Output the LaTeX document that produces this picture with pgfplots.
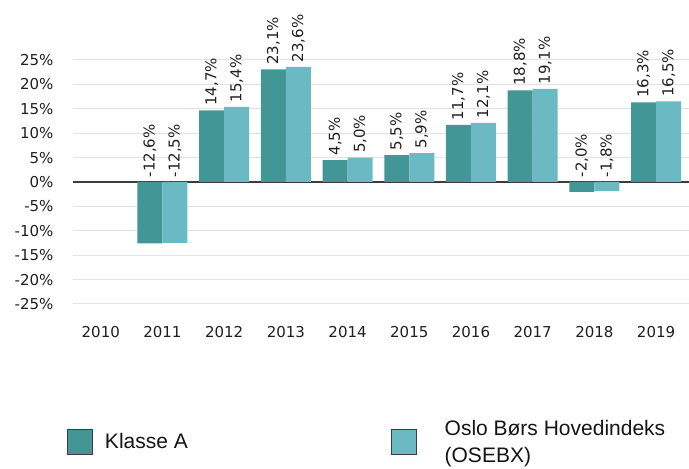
\documentclass[border=0pt]{standalone}
\usepackage{pgfplots}
\pgfplotsset{compat=1.18}
\usepackage{pgfplotstable}
\usepackage{fontspec}
\setmainfont{DejaVu Sans}
\newfontfamily\legfont{Liberation Sans}
\definecolor{klasseA}{RGB}{66,150,150}
\definecolor{osebx}{RGB}{107,185,194}
\definecolor{gridc}{RGB}{226,226,226}
\definecolor{zeroc}{RGB}{60,60,60}

\pgfplotstableread{
x a alab alabel b blab blabel
1 -12.6 0 -12,6 -12.5 0 -12,5
2 14.7 14.7 14,7 15.4 15.4 15,4
3 23.1 23.1 23,1 23.6 23.6 23,6
4 4.5 4.5 4,5 5.0 5.0 5,0
5 5.5 5.5 5,5 5.9 5.9 5,9
6 11.7 11.7 11,7 12.1 12.1 12,1
7 18.8 18.8 18,8 19.1 19.1 19,1
8 -2.0 0 -2,0 -1.8 0 -1,8
9 16.3 16.3 16,3 16.5 16.5 16,5
}\data

\pgfplotsset{
  lab/.style={draw=none, mark=none, forget plot,
    nodes near coords={\pgfplotspointmeta\%}, point meta=explicit symbolic,
    every node near coord/.append style={xshift=#1, rotate=90, anchor=west, inner sep=4.5pt,
      font=\fontsize{15}{18}\selectfont, text=black!88}},
}

\begin{document}
\begin{tikzpicture}
\begin{axis}[name=ax,
  scale only axis, width=617pt, height=244pt,
  xmin=-0.45, xmax=9.55, ymin=-25, ymax=25,
  xtick={0,1,2,3,4,5,6,7,8,9},
  xticklabels={2010,2011,2012,2013,2014,2015,2016,2017,2018,2019},
  ytick={-25,-20,-15,-10,-5,0,5,10,15,20,25},
  yticklabels={-25\%,-20\%,-15\%,-10\%,-5\%,0\%,5\%,10\%,15\%,20\%,25\%},
  ymajorgrids, grid style={gridc, line width=1pt},
  axis line style={draw=none}, major tick length=0pt,
  ticklabel style={font=\fontsize{15}{18}\selectfont, text=black!88},
  yticklabel style={xshift=-16pt},
  xticklabel style={yshift=-19pt},
  extra y ticks={0}, extra y tick labels={},
  extra y tick style={grid style={zeroc, line width=1.2pt}},
  legend columns=2,
  legend image code/.code={\draw[#1, draw=zeroc, line width=0.8pt] (0pt,-12.5pt) rectangle (25pt,12.5pt);},
  legend style={at={(axis description cs:0,0)}, anchor=west, xshift=-6pt, yshift=-138pt,
    draw=none, fill=none, inner sep=0pt,
    font=\legfont\fontsize{21}{27}\selectfont, text=black!92,
    cells={anchor=west, align=left},
    /tikz/column 1/.style={column sep=10pt},
    /tikz/column 2/.style={column sep=201pt},
    /tikz/column 3/.style={column sep=26pt}},
]
\addplot[ybar, bar width=25pt, bar shift=-12.5pt, fill=klasseA, draw=none] table[x=x, y=a] {\data};
\addlegendentry{Klasse A}
\addplot[ybar, bar width=25pt, bar shift=12.5pt, fill=osebx, draw=none] table[x=x, y=b] {\data};
\addlegendentry{Oslo Børs Hovedindeks\\(OSEBX)}
\addplot[lab=-12.5pt] table[x=x, y=alab, meta=alabel] {\data};
\addplot[lab=12.5pt] table[x=x, y=blab, meta=blabel] {\data};
\end{axis}
\pgfresetboundingbox
\path ([shift={(-73pt,-165pt)}]ax.south west) rectangle ([shift={(616pt,60pt)}]ax.north west);
\end{tikzpicture}
\end{document}
